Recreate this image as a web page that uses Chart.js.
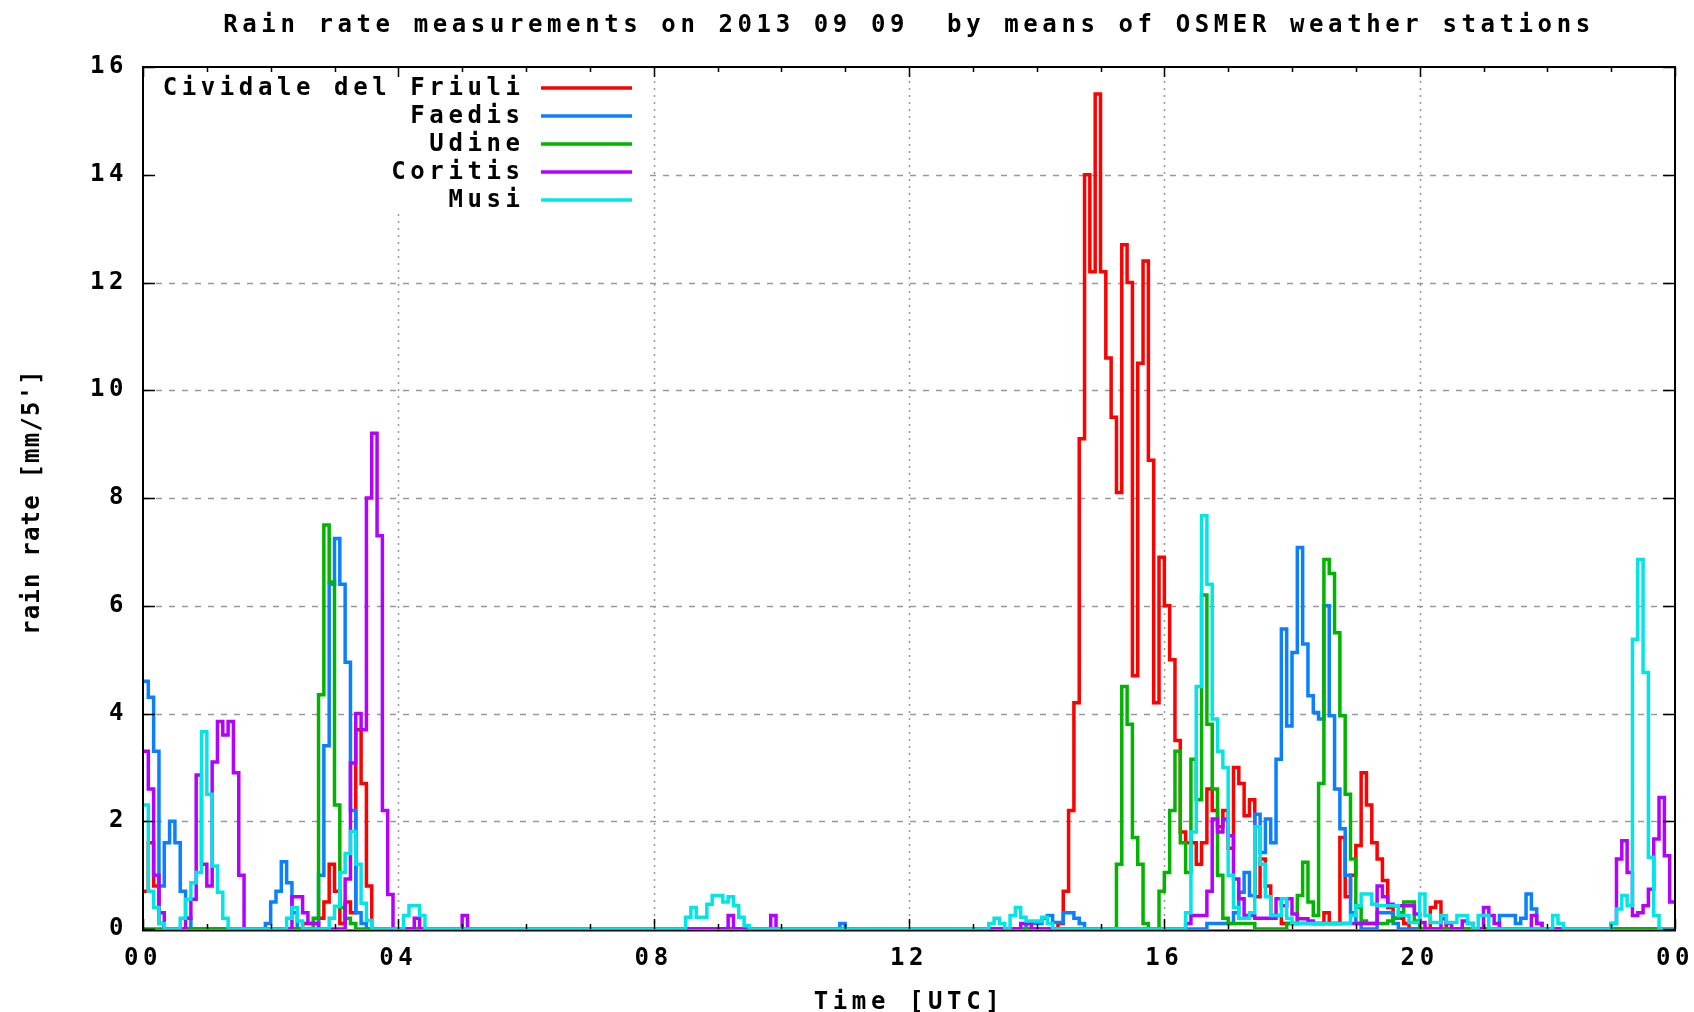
<!DOCTYPE html>
<html>
<head>
<meta charset="utf-8">
<script src="https://cdn.jsdelivr.net/npm/chart.js@4.4.1/dist/chart.umd.min.js"></script>
<style>
html,body{margin:0;padding:0;background:#fff;overflow:hidden;}
#wrap{width:1694px;height:1012px;position:relative;overflow:hidden;}
#c{display:block;}
</style>
</head>
<body>
<div id="wrap"><canvas id="c"></canvas></div>
<script>
// ---------------- DATA ----------------
const titleText = "Rain rate measurements on 2013 09 09  by means of OSMER weather stations";
const xTitleText = "Time [UTC]";
const yTitleText = "rain rate [mm/5']";
const stationNames = ["Cividale del Friuli", "Faedis", "Udine", "Coritis", "Musi"];
const stationColors = ["#ff0000", "#0a80ff", "#00b400", "#b400ff", "#00e6e6"];
const xTickHours = [0, 4, 8, 12, 16, 20, 24];
const yTickValues = [0, 2, 4, 6, 8, 10, 12, 14, 16];
const stepsPerHour = 12; // one value every 5 minutes

// rain rate [mm/5'], one row per hour (00..23), 12 values per row
const cividale = [
0.7,1.6,0.8,0.1,0,0,0,0,0,0,0,0,
0,0,0,0,0,0,0,0,0,0,0,0,
0,0,0,0,0,0,0.1,0.1,0.1,0.2,0.5,1.2,
0.7,0.1,0.5,0.3,3.7,2.7,0.8,0,0,0,0,0,
0,0,0,0,0,0,0,0,0,0,0,0,
0,0,0,0,0,0,0,0,0,0,0,0,
0,0,0,0,0,0,0,0,0,0,0,0,
0,0,0,0,0,0,0,0,0,0,0,0,
0,0,0,0,0,0,0,0,0,0,0,0,
0,0,0,0,0,0,0,0,0,0,0,0,
0,0,0,0,0,0,0,0,0,0,0,0,
0,0,0,0,0,0,0,0,0,0,0,0,
0,0,0,0,0,0,0,0,0,0,0,0,
0,0,0,0,0,0,0,0,0,0,0,0,
0,0,0,0,0.1,0.7,2.2,4.2,9.1,14.0,12.2,15.5,
12.2,10.6,9.5,8.1,12.7,12.0,4.7,10.5,12.4,8.7,4.2,6.9,
6.0,5.0,3.5,1.8,1.6,1.6,1.2,1.6,2.6,2.2,1.9,2.2,
1.5,3.0,2.7,2.1,2.4,0.6,1.3,0.8,0.25,0.25,0.1,0.1,
0.1,0.1,0.1,0.1,0.1,0.1,0.3,0.1,0.1,1.7,0.6,1.0,
1.55,2.9,2.3,1.6,1.3,0.9,0.4,0.2,0.2,0.1,0,0,
0,0,0.4,0.5,0.2,0,0,0,0,0,0,0,
0,0,0,0,0,0,0,0,0,0,0,0,
0,0,0,0,0,0,0,0,0,0,0,0,
0,0,0,0,0,0,0,0,0,0,0,0
];
const faedis = [
4.6,4.3,3.3,0.8,1.6,2.0,1.6,0.7,0.2,0,0,0,
0,0,0,0,0,0,0,0,0,0,0,0.1,
0.5,0.7,1.25,0.86,0.3,0,0,0,0,1.0,3.4,6.4,
7.25,6.4,4.95,2.2,0.3,0.1,0,0,0,0,0,0,
0,0,0,0,0,0,0,0,0,0,0,0,
0,0,0,0,0,0,0,0,0,0,0,0,
0,0,0,0,0,0,0,0,0,0,0,0,
0,0,0,0,0,0,0,0,0,0,0,0,
0,0,0,0,0,0,0,0,0,0,0,0,
0,0,0,0,0,0,0,0,0,0,0,0,
0,0,0,0,0,0,0,0,0,0,0,0.1,
0,0,0,0,0,0,0,0,0,0,0,0,
0,0,0,0,0,0,0,0,0,0,0,0,
0,0,0,0,0,0,0,0,0,0,0.1,0.1,
0.1,0.2,0.25,0.12,0.12,0.3,0.3,0.2,0.1,0,0,0,
0,0,0,0,0,0,0,0,0,0,0,0,
0,0,0,0,0,0,0,0,0.1,0.1,0.1,0.1,
0.1,0.3,0.68,1.05,0.62,2.13,1.42,2.04,1.6,3.15,5.57,3.77,
5.13,7.08,5.29,4.33,4.02,3.9,6.0,3.96,2.6,1.86,1.0,0.3,
0.1,0,0,0,0.3,0.3,0.3,0.1,0,0,0,0,
0,0,0,0,0,0,0,0,0,0,0,0,
0,0,0,0.25,0.25,0.25,0.1,0.2,0.65,0.37,0.1,0,
0,0,0,0,0,0,0,0,0,0,0,0,
0,0,0,0,0,0,0,0,0,0,0,0
];
const udine = [
0,0,0,0,0,0,0,0,0,0,0,0,
0,0,0,0,0,0,0,0,0,0,0,0,
0,0,0,0,0,0,0,0,0.2,4.35,7.5,6.44,
2.3,0.4,0.2,0.1,0,0,0,0,0,0,0,0,
0,0,0,0,0,0,0,0,0,0,0,0,
0,0,0,0,0,0,0,0,0,0,0,0,
0,0,0,0,0,0,0,0,0,0,0,0,
0,0,0,0,0,0,0,0,0,0,0,0,
0,0,0,0,0,0,0,0,0,0,0,0,
0,0,0,0,0,0,0,0,0,0,0,0,
0,0,0,0,0,0,0,0,0,0,0,0,
0,0,0,0,0,0,0,0,0,0,0,0,
0,0,0,0,0,0,0,0,0,0,0,0,
0,0,0,0,0,0,0,0,0,0,0,0,
0,0,0,0,0,0,0,0,0,0,0,0,
0,0,0,1.2,4.5,3.8,1.7,1.2,0.1,0,0,0.7,
1.05,2.2,3.3,1.6,1.05,3.15,2.4,6.2,3.8,2.6,1.0,0.2,
0.1,0.1,0.1,0.1,0.1,0,0,0,0,0,0,0.1,
0.1,0.62,1.24,0.5,0.25,2.7,6.86,6.6,5.5,3.96,2.5,1.3,
0.4,0.15,0.1,0.1,0.1,0.1,0.15,0.2,0.3,0.5,0.5,0.15,
0,0,0,0,0,0,0,0,0,0,0,0,
0,0,0,0,0,0,0,0,0,0,0,0,
0,0,0,0,0,0,0,0,0,0,0,0,
0,0,0,0,0,0,0,0,0,0,0,0
];
const coritis = [
3.3,2.6,1.0,0.3,0,0,0,0,0.2,0.55,2.86,1.2,
0.8,3.1,3.85,3.6,3.85,2.9,1.0,0,0,0,0,0,
0,0,0,0,0.6,0.6,0.3,0.1,0.1,0,0,0,
0,0,0.93,3.08,4.0,3.7,8.0,9.2,7.3,2.2,0.64,0,
0,0,0,0.2,0,0,0,0,0,0,0,0,
0.25,0,0,0,0,0,0,0,0,0,0,0,
0,0,0,0,0,0,0,0,0,0,0,0,
0,0,0,0,0,0,0,0,0,0,0,0,
0,0,0,0,0,0,0,0,0,0,0,0,
0,0,0.25,0,0,0,0,0,0,0,0.25,0,
0,0,0,0,0,0,0,0,0,0,0,0,
0,0,0,0,0,0,0,0,0,0,0,0,
0,0,0,0,0,0,0,0,0,0,0,0,
0,0,0,0,0,0,0,0,0,0.1,0.1,0,
0,0,0,0,0,0,0,0,0,0,0,0,
0,0,0,0,0,0,0,0,0,0,0,0,
0,0,0,0,0.1,0.25,0.25,0.25,0.7,2.04,1.8,2.04,
1.73,0.93,0.56,0.25,0.25,0.2,0.2,0.2,0.2,0.56,0.43,0.56,
0.28,0.19,0.19,0.15,0.1,0.1,0.1,0.1,0.1,0.1,0.1,0.1,
0.1,0.1,0.1,0.1,0.8,0.6,0.46,0.43,0.43,0.43,0.43,0.28,
0.12,0,0,0,0.19,0.1,0,0,0.15,0.1,0,0,
0.4,0.25,0.1,0,0,0,0,0,0,0.25,0.1,0,
0,0,0,0,0,0,0,0,0,0,0,0,
0.1,1.3,1.64,1.05,0.25,0.3,0.43,0.74,1.67,2.44,1.36,0.5
];
const musi = [
2.3,0.7,0.4,0.1,0,0,0,0.2,0.55,0.86,1.05,3.66,
2.5,1.17,0.68,0.2,0,0,0,0,0,0,0,0,
0,0,0,0.2,0.4,0.15,0,0,0,0,0,0.2,
0.42,1.05,1.4,1.81,1.2,0.48,0.16,0,0,0,0,0,
0,0.25,0.43,0.43,0.25,0,0,0,0,0,0,0,
0,0,0,0,0,0,0,0,0,0,0,0,
0,0,0,0,0,0,0,0,0,0,0,0,
0,0,0,0,0,0,0,0,0,0,0,0,
0,0,0,0,0,0,0.22,0.4,0.22,0.22,0.46,0.62,
0.62,0.5,0.6,0.43,0.22,0.06,0,0,0,0,0,0,
0,0,0,0,0,0,0,0,0,0,0,0,
0,0,0,0,0,0,0,0,0,0,0,0,
0,0,0,0,0,0,0,0,0,0,0,0,
0,0,0,0.1,0.2,0.1,0,0.25,0.4,0.22,0.15,0.15,
0.15,0.22,0.1,0,0,0,0,0,0,0,0,0,
0,0,0,0,0,0,0,0,0,0,0,0,
0,0,0,0,0.3,1.8,4.5,7.67,6.4,3.9,3.3,3.0,
1.0,0.4,0.2,0.2,0.3,1.9,1.2,0.6,0.25,0.25,0.56,0.2,
0.1,0.1,0.1,0.1,0.1,0.1,0.1,0.1,0.1,0.1,0.1,0.25,
0.43,0.65,0.65,0.46,0.43,0.43,0.43,0.43,0.25,0.25,0.12,0.12,
0.65,0.25,0.12,0.12,0.25,0.12,0.12,0.25,0.25,0.1,0,0.25,
0.25,0,0,0,0,0,0,0,0,0,0,0,
0,0.25,0.1,0,0,0,0,0,0,0,0,0,
0.1,0.37,0.62,0.43,5.38,6.86,4.76,1.33,0.25,0,0,0
];
const seriesValues = [cividale, faedis, udine, coritis, musi];

// ---------------- CHART ----------------
const FONT = "'DejaVu Sans Mono', monospace";
const FSIZE = 24;
const SP = 4.6; // letter spacing to mimic the wide gnuplot bitmap font

function toPoints(arr) {
  const pts = arr.map((v, i) => ({x: i / stepsPerHour, y: v}));
  pts.push({x: arr.length / stepsPerHour, y: arr[arr.length - 1]});
  return pts;
}

const spacingPlugin = {
  id: 'spacing',
  beforeUpdate(chart) { chart.ctx.letterSpacing = SP + 'px'; },
  beforeDraw(chart) { chart.ctx.letterSpacing = SP + 'px'; }
};

const decorPlugin = {
  id: 'decor',
  beforeDatasetsDraw(chart) {
    const {ctx, chartArea: a, scales: {x, y}} = chart;
    ctx.save();
    ctx.lineWidth = 1.5;
    ctx.strokeStyle = '#999999';
    ctx.setLineDash([6, 7]);
    y.ticks.forEach(t => {
      if (t.value <= y.min || t.value >= y.max) return;
      const py = Math.round(y.getPixelForValue(t.value)) + 0.5;
      ctx.beginPath(); ctx.moveTo(a.left, py); ctx.lineTo(a.right, py); ctx.stroke();
    });
    ctx.setLineDash([2, 5]);
    x.ticks.forEach(t => {
      if (t.value <= x.min || t.value >= x.max) return;
      const px = Math.round(x.getPixelForValue(t.value)) + 0.5;
      ctx.beginPath(); ctx.moveTo(px, a.top); ctx.lineTo(px, a.bottom); ctx.stroke();
    });
    ctx.setLineDash([]);
    // legend (gnuplot style: right-aligned label, sample line to the right)
    const boxL = a.left + 7, boxT = a.top + 3, boxR = a.left + 502, boxB = a.top + 146;
    ctx.fillStyle = '#ffffff';
    ctx.fillRect(boxL, boxT, boxR - boxL, boxB - boxT);
    ctx.font = 'bold ' + FSIZE + 'px ' + FONT;
    ctx.letterSpacing = SP + 'px';
    ctx.textAlign = 'right';
    ctx.textBaseline = 'middle';
    chart.data.datasets.forEach((ds, k) => {
      const yy = a.top + 21 + k * 28;
      ctx.fillStyle = '#000';
      ctx.fillText(ds.label, a.left + 377 + SP, yy + 1);
      ctx.strokeStyle = ds.borderColor;
      ctx.lineWidth = 3.5;
      ctx.beginPath(); ctx.moveTo(a.left + 398, yy); ctx.lineTo(a.left + 489, yy); ctx.stroke();
    });
    ctx.restore();
  },
  afterDatasetsDraw(chart) {
    const {ctx, chartArea: a, scales: {x, y}} = chart;
    ctx.save();
    ctx.strokeStyle = '#000';
    ctx.lineWidth = 2;
    ctx.strokeRect(a.left, a.top, a.right - a.left, a.bottom - a.top + 1.5);
    ctx.lineWidth = 1.5;
    y.ticks.forEach(t => {
      const py = Math.round(y.getPixelForValue(t.value)) + 0.5;
      ctx.beginPath();
      ctx.moveTo(a.left, py); ctx.lineTo(a.left + 12, py);
      ctx.moveTo(a.right, py); ctx.lineTo(a.right - 12, py);
      ctx.stroke();
    });
    for (let h = x.min; h <= x.max; h++) {
      const px = Math.round(x.getPixelForValue(h)) + 0.5;
      const len = (h % 4 === 0) ? 10 : 5;
      ctx.beginPath();
      ctx.moveTo(px, a.bottom); ctx.lineTo(px, a.bottom - len);
      ctx.moveTo(px, a.top); ctx.lineTo(px, a.top + len);
      ctx.stroke();
    }
    // y-axis title (rotated)
    ctx.font = 'bold ' + FSIZE + 'px ' + FONT;
    ctx.letterSpacing = '1.2px';
    ctx.fillStyle = '#000';
    ctx.textAlign = 'center';
    ctx.textBaseline = 'middle';
    ctx.translate(33, (a.top + a.bottom) / 2 + 4);
    ctx.rotate(-Math.PI / 2);
    ctx.fillText(yTitleText, 0, 0);
    ctx.restore();
  }
};

const datasets = stationNames.map((name, k) => ({
  label: name,
  data: toPoints(seriesValues[k]),
  borderColor: stationColors[k],
  backgroundColor: stationColors[k],
  borderWidth: 3.5,
  pointRadius: 0,
  stepped: true,
  fill: false,
  order: stationNames.length - k
}));

const tickFont = {family: FONT, size: FSIZE, weight: 'bold', lineHeight: 1.2};

new Chart(document.getElementById('c'), {
  type: 'line',
  data: {datasets},
  plugins: [spacingPlugin, decorPlugin],
  options: {
    responsive: true,
    maintainAspectRatio: false,
    animation: false,
    devicePixelRatio: 1,
    events: [],
    layout: {padding: {left: 0, right: 19, top: 0, bottom: 0}, autoPadding: false},
    plugins: {
      legend: {display: false},
      tooltip: {enabled: false},
      title: {
        display: true,
        fullSize: false,
        text: titleText,
        color: '#000',
        font: {family: FONT, size: FSIZE, weight: 'bold', lineHeight: 1.2},
        padding: {top: 11, bottom: 27.2}
      }
    },
    scales: {
      x: {
        type: 'linear',
        min: xTickHours[0],
        max: xTickHours[xTickHours.length - 1],
        afterFit(scale) {
          scale.height = 83;
          scale.paddingLeft = 0; scale.paddingRight = 0;
        },
        afterBuildTicks(scale) { scale.ticks = xTickHours.map(v => ({value: v})); },
        grid: {display: false, drawTicks: false},
        border: {display: false},
        ticks: {
          autoSkip: false, maxRotation: 0, padding: 15.5,
          color: '#000',
          font: tickFont,
          callback: v => String(v % 24).padStart(2, '0')
        },
        title: {
          display: true, text: xTitleText, color: '#000',
          font: {family: FONT, size: FSIZE, weight: 'bold', lineHeight: 1.0},
          padding: {top: 0, bottom: -3}
        }
      },
      y: {
        type: 'linear',
        min: yTickValues[0],
        max: yTickValues[yTickValues.length - 1],
        afterFit(scale) {
          scale.width = 143;
          scale.paddingTop = 0; scale.paddingBottom = 0;
        },
        afterBuildTicks(scale) { scale.ticks = yTickValues.map(v => ({value: v})); },
        grid: {display: false, drawTicks: false},
        border: {display: false},
        ticks: {
          padding: 15,
          color: '#000',
          font: tickFont
        }
      }
    }
  }
});
</script>
</body>
</html>
